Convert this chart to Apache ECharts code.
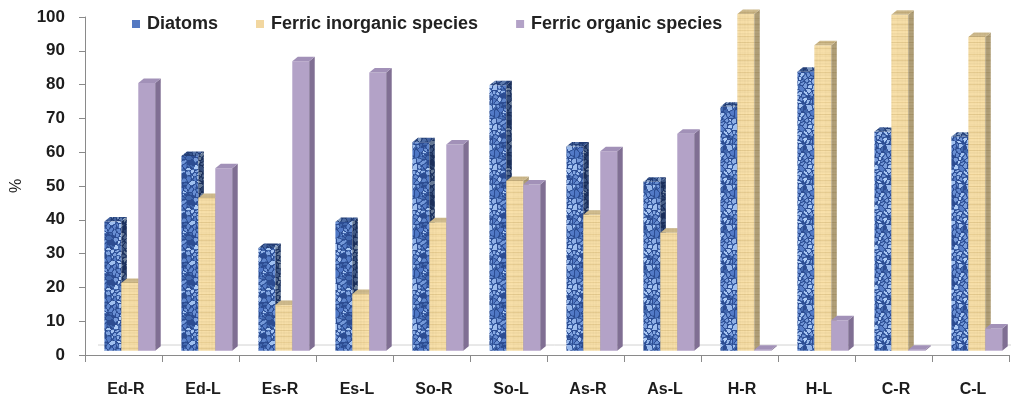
<!DOCTYPE html>
<html>
<head>
<meta charset="utf-8">
<style>
  html, body { margin: 0; padding: 0; background: #ffffff; }
  #chart { width: 1012px; height: 398px; }
</style>
<script src="https://cdn.jsdelivr.net/npm/echarts@6/dist/echarts.min.js"></script>
</head>
<body>
<div id="chart"></div>
<script>
// Site categories and the share (%) of each iron/diatom fraction
const categories = ['Ed-R', 'Ed-L', 'Es-R', 'Es-L', 'So-R', 'So-L', 'As-R', 'As-L', 'H-R', 'H-L', 'C-R', 'C-L'];
const seriesNames = ['Diatoms', 'Ferric inorganic species', 'Ferric organic species'];
const diatoms   = [38.2, 57.6, 30.4, 38.1, 61.7, 78.5, 60.4, 50.0, 72.2, 82.5, 64.8, 63.3];
const inorganic = [20.0, 45.2, 13.5, 16.8, 38.0, 50.2, 40.2, 34.9, 99.6, 90.4, 99.4, 92.8];
const organic   = [79.2, 54.0, 85.6, 82.3, 61.0, 49.2, 59.0, 64.2, 0.3, 9.0, 0.3, 6.6];
const yMin = 0, yMax = 100, yStep = 10;

const FONT = 'Liberation Sans';
const TEXT = '#1c1c1c';
const AXIS = '#8a8a8a';

// ---- procedural textures for the bar faces ----
function rng(seed) {
  let s = seed >>> 0;
  return function () { s = (Math.imul(s, 1664525) + 1013904223) >>> 0; return s / 4294967296; };
}
function canvasFrom(w, h, pixel) {
  const c = document.createElement('canvas');
  c.width = w; c.height = h;
  const ctx = c.getContext('2d');
  const img = ctx.createImageData(w, h);
  for (let y = 0; y < h; y++) {
    for (let x = 0; x < w; x++) {
      const col = pixel(x, y);
      const o = (y * w + x) * 4;
      img.data[o] = col[0]; img.data[o + 1] = col[1]; img.data[o + 2] = col[2]; img.data[o + 3] = 255;
    }
  }
  ctx.putImageData(img, 0, 0);
  return c;
}
function clamp(v) { return Math.max(0, Math.min(255, Math.round(v))); }

// fine mottled blue texture (tileable cells)
function stoneTexture(shade) {
  const W = 40, H = 40, r = rng(7);
  const pts = [];
  for (let i = 0; i < 85; i++) {
    const t = r();
    pts.push({ x: r() * W, y: r() * H, c: [78 + 95 * t, 118 + 85 * t, 196 + 50 * t] });
  }
  return canvasFrom(W, H, function (x, y) {
    let d1 = 1e9, d2 = 1e9, best = null;
    for (const p of pts) {
      let dx = Math.abs(x - p.x), dy = Math.abs(y - p.y);
      dx = Math.min(dx, W - dx); dy = Math.min(dy, H - dy);
      const d = Math.sqrt(dx * dx + dy * dy);
      if (d < d1) { d2 = d1; d1 = d; best = p; } else if (d < d2) { d2 = d; }
    }
    const e = d2 - d1;
    let c;
    if (e < 0.5) c = [44, 76, 146];
    else if (e < 1.1) c = [66, 104, 174];
    else c = best.c;
    return [clamp(c[0] * shade), clamp(c[1] * shade), clamp(c[2] * shade)];
  });
}

// pale wheat texture with faint horizontal grain
function woodTexture(shade) {
  const W = 24, H = 36, r = rng(11);
  const rows = [];
  for (let y = 0; y < H; y++) rows.push(r());
  const cols = [];
  for (let x = 0; x < W; x++) cols.push(r());
  return canvasFrom(W, H, function (x, y) {
    const base = [243, 219, 165];
    const grain = (y % 6 === 0) ? -12 : 0;
    const n = (rows[y] - 0.5) * 10 + (cols[x] - 0.5) * 6;
    return [clamp((base[0] + grain + n) * shade), clamp((base[1] + grain * 1.2 + n) * shade), clamp((base[2] + grain * 1.6 + n) * shade)];
  });
}

function pattern(c) { return { type: 'pattern', image: c, repeat: 'repeat' }; }

const faces = [
  { front: pattern(stoneTexture(1.0)), side: pattern(stoneTexture(0.62)), top: pattern(stoneTexture(0.8)) },
  { front: pattern(woodTexture(1.0)),  side: pattern(woodTexture(0.72)), top: pattern(woodTexture(0.84)) },
  { front: '#B3A2C7', side: '#806F93', top: '#A291B8' }
];
const legendColors = ['#5479C2', '#F2D7A0', '#B3A2C7'];

// ---- 3D column geometry (relative to the category band) ----
const BAR_FRAC = 0.22;     // front face width / band width
const GROUP_SHIFT = 0.082; // group offset toward the back of the floor
const LIFT = -4.3;         // front faces sit mid-depth on the floor
const DX = 5.5, DY = -4.5; // depth projection of the column

function columnRenderer(k) {
  const f = faces[k];
  return function (params, api) {
    const i = api.value(0), v = api.value(1);
    const p0 = api.coord([i, 0]);
    const p1 = api.coord([i, v]);
    const band = api.size([1, 0])[0];
    const w = band * BAR_FRAC;
    const x = p0[0] + band * GROUP_SHIFT + (k - 1.5) * w;
    const yb = p0[1] + LIFT, yt = p1[1] + LIFT;
    return {
      type: 'group',
      children: [
        { type: 'rect', shape: { x: x, y: yt, width: w, height: Math.max(0, yb - yt) }, style: { fill: f.front } },
        { type: 'polygon', shape: { points: [[x + w, yt], [x + w + DX, yt + DY], [x + w + DX, yb + DY], [x + w, yb]] }, style: { fill: f.side } },
        { type: 'polygon', shape: { points: [[x, yt], [x + DX, yt + DY], [x + w + DX, yt + DY], [x + w, yt]] }, style: { fill: f.top } }
      ]
    };
  };
}

// back edge of the chart floor
function floorRenderer(params, api) {
  const cs = params.coordSys;
  const yb = cs.y + cs.height;
  return {
    type: 'line',
    shape: { x1: cs.x + 13, y1: yb - 10, x2: cs.x + cs.width + 2, y2: yb - 10 },
    style: { stroke: '#d2d2d2', lineWidth: 1 },
    silent: true
  };
}

const values = [diatoms, inorganic, organic];
const series = [{
  type: 'custom',
  name: 'floor',
  renderItem: floorRenderer,
  data: [[0, 0]],
  encode: { x: 0, y: 1 },
  silent: true,
  animation: false
}];
values.forEach(function (arr, k) {
  series.push({
    type: 'custom',
    name: seriesNames[k],
    renderItem: columnRenderer(k),
    data: arr.map(function (v, i) { return [i, v]; }),
    encode: { x: 0, y: 1 },
    itemStyle: { color: legendColors[k] },
    animation: false
  });
});

const chart = echarts.init(document.getElementById('chart'), null, { renderer: 'canvas' });
chart.setOption({
  backgroundColor: '#ffffff',
  animation: false,
  textStyle: { fontFamily: FONT },
  legend: {
    data: seriesNames.map(function (n, k) { return { name: n, icon: 'rect', itemStyle: { color: legendColors[k] } }; }),
    left: 132,
    top: 15,
    padding: 0,
    itemWidth: 8,
    itemHeight: 8,
    itemGap: 38,
    textStyle: { fontFamily: FONT, fontSize: 18, fontWeight: 'bold', color: '#222222', padding: [0, 0, 0, 2] }
  },
  grid: { left: 85, right: 3, top: 17, bottom: 43, containLabel: false },
  xAxis: {
    type: 'category',
    data: categories,
    axisLine: { lineStyle: { color: AXIS, width: 1 } },
    axisTick: { show: true, length: 7, lineStyle: { color: AXIS } },
    axisLabel: { fontFamily: FONT, fontSize: 16, fontWeight: 'bold', color: TEXT, margin: 27, padding: [0, 0, 0, 5] },
    splitLine: { show: false }
  },
  yAxis: {
    type: 'value',
    min: yMin, max: yMax, interval: yStep,
    name: '%',
    nameLocation: 'middle',
    nameRotate: 90,
    nameGap: 60,
    nameTextStyle: { fontFamily: FONT, fontSize: 16, color: TEXT },
    axisLine: { show: true, lineStyle: { color: AXIS, width: 1 } },
    axisTick: { show: true, length: 6, lineStyle: { color: AXIS } },
    axisLabel: { fontFamily: FONT, fontSize: 17, fontWeight: 'bold', color: TEXT, margin: 20 },
    splitLine: { show: false }
  },
  series: series
});
</script>
</body>
</html>
